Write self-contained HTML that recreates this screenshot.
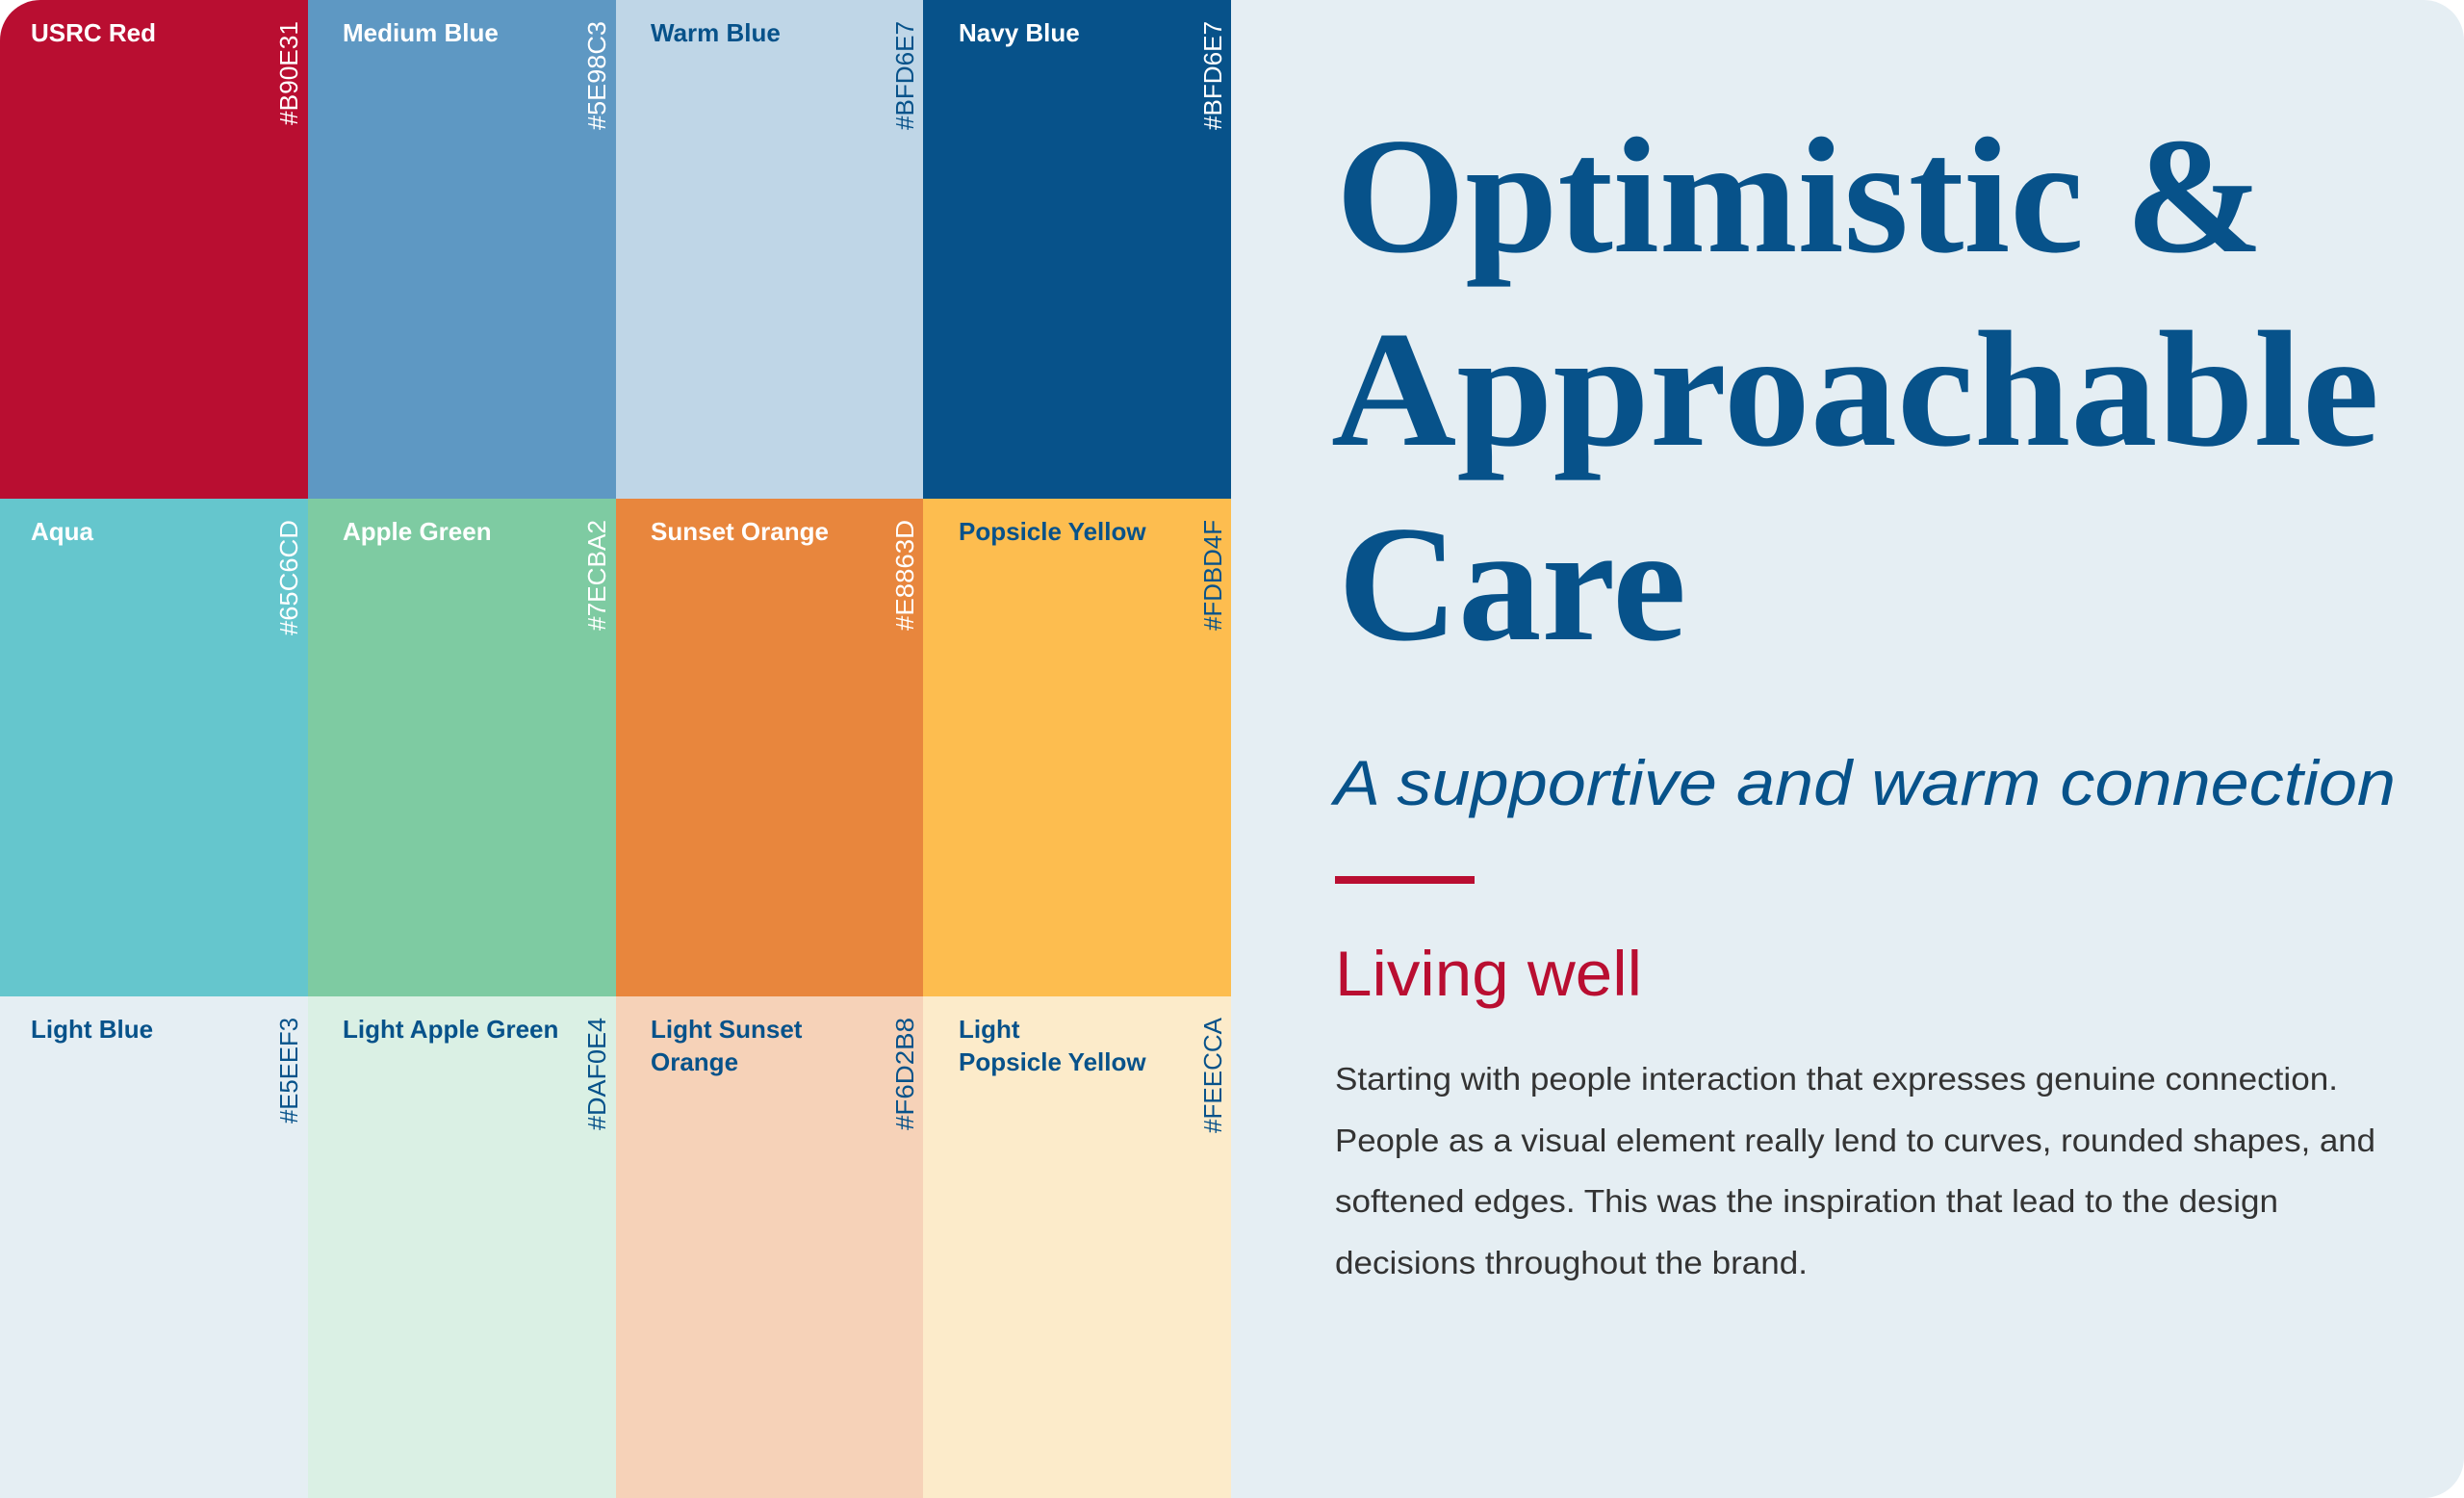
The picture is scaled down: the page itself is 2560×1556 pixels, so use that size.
<!DOCTYPE html>
<html><head><meta charset="utf-8"><style>
html,body{margin:0;padding:0;background:#fff;}
svg{display:block;}
</style></head><body>
<svg width="2560" height="1556" viewBox="0 0 2560 1556" xmlns="http://www.w3.org/2000/svg">
<defs><clipPath id="c"><path d="M42 0 H2518 A42 42 0 0 1 2560 42 V1514 A42 42 0 0 1 2518 1556 H0 V42 A42 42 0 0 1 42 0 Z"/></clipPath></defs>
<g clip-path="url(#c)">
<rect x="0" y="0" width="2560" height="1556" fill="#E5EEF3"/>
<rect x="0" y="0" width="320" height="518" fill="#B90E31"/>
<rect x="320" y="0" width="320" height="518" fill="#5E98C3"/>
<rect x="640" y="0" width="319" height="518" fill="#BFD6E7"/>
<rect x="959" y="0" width="320" height="518" fill="#07528A"/>
<rect x="0" y="518" width="320" height="517" fill="#65C6CD"/>
<rect x="320" y="518" width="320" height="517" fill="#7ECBA2"/>
<rect x="640" y="518" width="319" height="517" fill="#E8863D"/>
<rect x="959" y="518" width="320" height="517" fill="#FDBD4F"/>
<rect x="0" y="1035" width="320" height="521" fill="#E5EEF3"/>
<rect x="320" y="1035" width="320" height="521" fill="#DAF0E4"/>
<rect x="640" y="1035" width="319" height="521" fill="#F6D2B8"/>
<rect x="959" y="1035" width="320" height="521" fill="#FCEBCA"/>

<g font-family="Liberation Sans, sans-serif" font-weight="bold" font-size="26">
<text x="32" y="43" fill="#fff">USRC Red</text>
<text x="356" y="43" fill="#fff">Medium Blue</text>
<text x="676" y="43" fill="#07528A">Warm Blue</text>
<text x="996" y="43" fill="#fff">Navy Blue</text>
<text x="32" y="561" fill="#fff">Aqua</text>
<text x="356" y="561" fill="#fff">Apple Green</text>
<text x="676" y="561" fill="#fff">Sunset  Orange</text>
<text x="996" y="561" fill="#07528A">Popsicle Yellow</text>
<text x="32" y="1078" fill="#07528A">Light Blue</text>
<text x="356" y="1078" fill="#07528A">Light Apple Green</text>
<text x="676" y="1078" fill="#07528A">Light Sunset</text>
<text x="676" y="1112" fill="#07528A">Orange</text>
<text x="996" y="1078" fill="#07528A">Light</text>
<text x="996" y="1112" fill="#07528A">Popsicle Yellow</text>
</g>
<g font-family="Liberation Sans, sans-serif" font-size="26" text-anchor="end">
<text transform="translate(309,22) rotate(-90)" fill="#fff" textLength="108" lengthAdjust="spacingAndGlyphs">#B90E31</text>
<text transform="translate(629,22) rotate(-90)" fill="#fff" textLength="113" lengthAdjust="spacingAndGlyphs">#5E98C3</text>
<text transform="translate(949,22) rotate(-90)" fill="#07528A" textLength="113" lengthAdjust="spacingAndGlyphs">#BFD6E7</text>
<text transform="translate(1269,22) rotate(-90)" fill="#fff" textLength="113" lengthAdjust="spacingAndGlyphs">#BFD6E7</text>
<text transform="translate(309,540) rotate(-90)" fill="#fff" textLength="120" lengthAdjust="spacingAndGlyphs">#65C6CD</text>
<text transform="translate(629,540) rotate(-90)" fill="#fff" textLength="115" lengthAdjust="spacingAndGlyphs">#7ECBA2</text>
<text transform="translate(949,540) rotate(-90)" fill="#fff" textLength="115" lengthAdjust="spacingAndGlyphs">#E8863D</text>
<text transform="translate(1269,540) rotate(-90)" fill="#07528A" textLength="115" lengthAdjust="spacingAndGlyphs">#FDBD4F</text>
<text transform="translate(309,1057) rotate(-90)" fill="#07528A" textLength="110" lengthAdjust="spacingAndGlyphs">#E5EEF3</text>
<text transform="translate(629,1057) rotate(-90)" fill="#07528A" textLength="117" lengthAdjust="spacingAndGlyphs">#DAF0E4</text>
<text transform="translate(949,1057) rotate(-90)" fill="#07528A" textLength="117" lengthAdjust="spacingAndGlyphs">#F6D2B8</text>
<text transform="translate(1269,1057) rotate(-90)" fill="#07528A" textLength="120" lengthAdjust="spacingAndGlyphs">#FEECCA</text>
</g>

<g font-family="Liberation Serif, serif" font-weight="bold" font-size="172" fill="#07528A">
<text x="1388" y="261" textLength="964" lengthAdjust="spacingAndGlyphs">Optimistic &amp;</text>
<text x="1383" y="462" textLength="1089" lengthAdjust="spacingAndGlyphs">Approachable</text>
<text x="1390" y="664" textLength="362" lengthAdjust="spacingAndGlyphs">Care</text>
</g>
<text x="1386" y="836" font-family="Liberation Sans, sans-serif" font-style="italic" font-size="66" fill="#07528A" textLength="1103" lengthAdjust="spacingAndGlyphs">A supportive and warm connection</text>
<rect x="1387" y="910" width="145" height="8" fill="#B90E31"/>
<text x="1387" y="1034" font-family="Liberation Sans, sans-serif" font-size="66" fill="#B90E31" textLength="319" lengthAdjust="spacingAndGlyphs">Living well</text>
<g font-family="Liberation Sans, sans-serif" font-size="33" fill="#333">
<text x="1387" y="1132" textLength="1042" lengthAdjust="spacingAndGlyphs">Starting with people interaction that expresses genuine connection.</text>
<text x="1387" y="1196" textLength="1081" lengthAdjust="spacingAndGlyphs">People as a visual element really lend to curves, rounded shapes, and</text>
<text x="1387" y="1259" textLength="980" lengthAdjust="spacingAndGlyphs">softened edges. This was the inspiration that lead to the design</text>
<text x="1387" y="1323" textLength="491" lengthAdjust="spacingAndGlyphs">decisions throughout the brand.</text>
</g>
</g>
</svg>
</body></html>
